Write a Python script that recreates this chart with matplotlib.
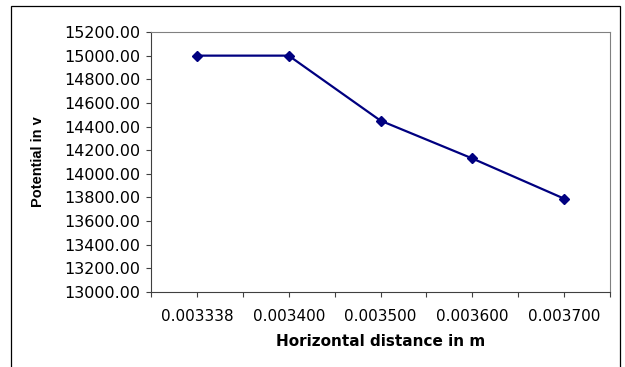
import matplotlib.pyplot as plt
from matplotlib.patches import Rectangle

# data
distance_labels = ["0.003338", "0.003400", "0.003500", "0.003600", "0.003700"]
potential = [15000, 15000, 14450, 14130, 13790]
y_ticks = [13000, 13200, 13400, 13600, 13800, 14000, 14200, 14400,
           14600, 14800, 15000, 15200]

fig = plt.figure(figsize=(6.25, 3.67), dpi=100)
ax = fig.add_axes([151/625, 1 - 292/367, 459/625, 260/367])

x = range(len(potential))
ax.plot(x, potential, color="#000080", lw=1.6, marker="D", ms=5.5,
        mfc="#000080", mec="#000080")

ax.set_xlim(-0.5, len(potential) - 0.5)
ax.set_ylim(13000, 15200)
ax.set_yticks(y_ticks)
ax.set_yticklabels(["%.2f" % v for v in y_ticks], family="DejaVu Sans", fontsize=11.5)
ax.set_xticks(list(x))
ax.set_xticklabels(distance_labels, family="DejaVu Sans", fontsize=11)
ax.set_xticks([i - 0.5 for i in range(len(potential) + 1)], minor=True)
ax.tick_params(axis="both", which="both", direction="out", length=3.5,
               width=0.8, color="#404040", pad=4)
ax.tick_params(axis="x", which="major", pad=9)

for side in ["top", "right"]:
    ax.spines[side].set_color("#808080")
for side in ["left", "bottom"]:
    ax.spines[side].set_color("#404040")

ax.set_xlabel("Horizontal distance in m", family="DejaVu Sans",
              fontweight="bold", fontsize=11)
ax.xaxis.set_label_coords(0.5, -0.16)
ax.set_ylabel("Potential in v", family="Liberation Sans",
              fontweight="bold", fontsize=10.5)
ax.yaxis.set_label_coords(-0.232, 0.5)

# outer chart frame
fig.patches.append(Rectangle((11/625, -0.1), 609/625, 1.1 - 6/367,
                             transform=fig.transFigure, fill=False,
                             ec="#000000", lw=0.9))

fig.savefig("out.png", dpi=100)
